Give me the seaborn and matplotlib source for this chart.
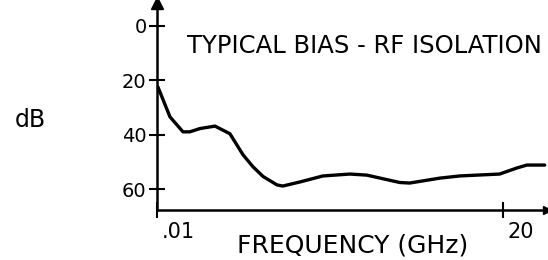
import matplotlib

matplotlib.use("Agg")

import matplotlib.pyplot as plt
import matplotlib.transforms as mtransforms
import pandas as pd
import seaborn as sns

# values
freq_ghz = [0.0102, 0.0133, 0.0177, 0.0206, 0.0257, 0.0358, 0.0497, 0.0662,
            0.0824, 0.103, 0.140, 0.159, 0.232, 0.384, 0.695, 1.01,
            2.08, 2.59, 5.02, 7.78, 18.7, 27.2, 34.0, 50.4]
isolation_db = [22.5, 33.5, 39.0, 39.0, 37.8, 36.9, 39.7, 47.4,
                51.8, 55.4, 58.5, 58.9, 57.4, 55.2, 54.5, 54.9,
                57.6, 57.8, 56.0, 55.2, 54.5, 52.3, 51.2, 51.2]

y_ticks = [0, 20, 40, 60]
y_tick_labels = ["0", "20", "40", "60"]
x_ticks = [0.01, 20]
x_tick_labels = [".01", "20"]

df = pd.DataFrame({"freq": freq_ghz, "db": isolation_db})

sns.set_theme(style="white")
plt.rcParams["font.family"] = ["DejaVu Sans"]
plt.rcParams["text.color"] = "black"

fig = plt.figure(figsize=(5.48, 2.6), dpi=100)
ax = fig.add_axes([157 / 548, 50 / 260, 390 / 548, 207 / 260])

sns.lineplot(data=df, x="freq", y="db", ax=ax, color="black", linewidth=2.4)

ax.set_xscale("log")
ax.set_xlim(0.01, 53)
ax.set_ylim(67.7, -8.3)

ax.set_xticks(x_ticks)
ax.set_xticklabels(x_tick_labels, ha="left", fontsize=15, color="black")
ax.minorticks_off()
ax.set_yticks(y_ticks)
ax.set_yticklabels(y_tick_labels, fontsize=14, color="black")
ax.set_xlabel("")
ax.set_ylabel("")

ax.tick_params(axis="both", bottom=True, left=True, direction="inout",
               length=11, width=1.5, colors="black")
ax.tick_params(axis="x", pad=3)
ax.tick_params(axis="y", pad=2)
offset = mtransforms.ScaledTranslation(5 / 100, 0, fig.dpi_scale_trans)
for lab in ax.get_xticklabels():
    lab.set_transform(lab.get_transform() + offset)

for side in ("top", "right"):
    ax.spines[side].set_visible(False)
for side in ("left", "bottom"):
    ax.spines[side].set_color("black")
    ax.spines[side].set_linewidth(1.8)

# arrow heads on the axes
ax.plot([0], [1], marker="^", color="black", markersize=8,
        transform=ax.transAxes, clip_on=False)
ax.plot([1], [0], marker=">", color="black", markersize=6,
        transform=ax.transAxes, clip_on=False)

fig.text(187 / 548, 1 - 46 / 260, "TYPICAL BIAS - RF ISOLATION",
         ha="left", va="center", fontsize=17.5, color="black")
fig.text(30 / 548, 1 - 120 / 260, "dB", ha="center", va="center",
         fontsize=17, color="black")
fig.text(353 / 548, 1 - 245 / 260, "FREQUENCY (GHz)",
         ha="center", va="center", fontsize=18, color="black")

fig.savefig("out.png", dpi=100, facecolor="white")
